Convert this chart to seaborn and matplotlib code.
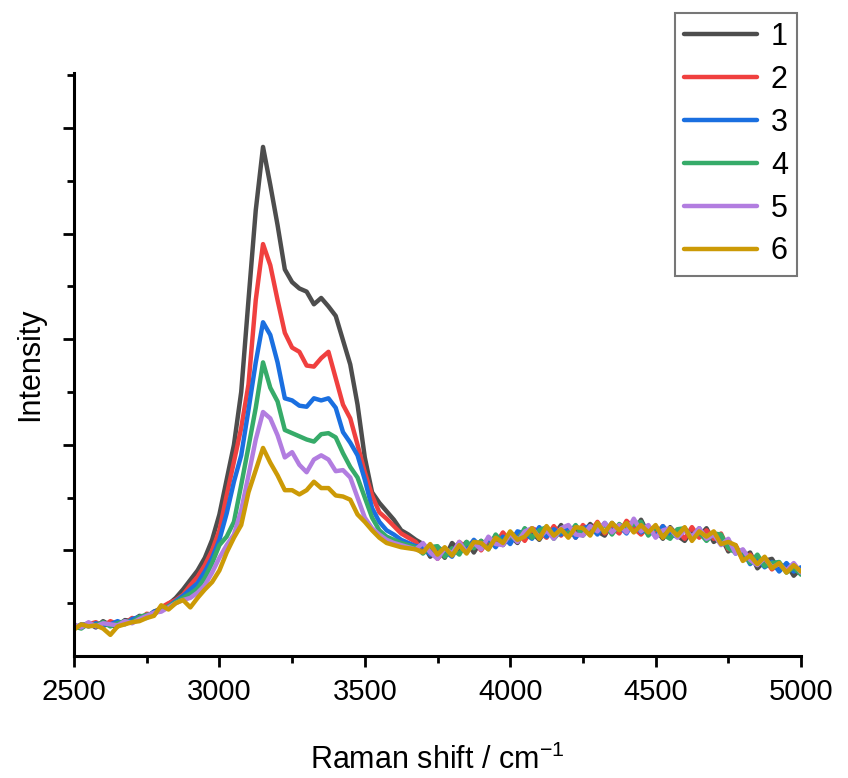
import numpy as np
import pandas as pd
import matplotlib
matplotlib.use("Agg")
import matplotlib.pyplot as plt
import seaborn as sns

# Raman shift axis (cm-1), sampled every 25 cm-1
shift = np.arange(2500, 5001, 25)

# intensities (a.u., one major y tick = 100)
s1 = [27, 29, 31, 27, 33, 29, 28, 34, 33, 38, 37, 42, 45, 49, 55, 63,
      72, 81, 93, 110, 134, 167, 200, 250, 337, 422, 482, 446, 408, 366, 354, 348,
      345, 333, 339, 331, 322, 299, 276, 238, 188, 155, 145, 137, 129, 119, 115, 110,
      106, 94, 101, 93, 107, 100, 108, 98, 109, 103, 114, 105, 114, 107, 120, 117,
      110, 121, 114, 124, 113, 121, 115, 125, 118, 114, 126, 118, 126, 118, 129, 115,
      120, 111, 122, 114, 109, 119, 113, 121, 108, 113, 99, 104, 93, 98, 83, 90,
      92, 81, 87, 76, 83]
s2 = [29, 27, 30, 32, 28, 33, 30, 31, 36, 34, 40, 39, 46, 50, 53, 58,
      67, 75, 86, 100, 119, 152, 184, 216, 257, 337, 390, 370, 337, 306, 292, 288,
      275, 274, 282, 288, 263, 238, 225, 200, 174, 152, 136, 130, 123, 116, 112, 108,
      99, 105, 92, 100, 96, 108, 102, 109, 100, 110, 106, 117, 108, 117, 109, 121,
      118, 112, 123, 114, 122, 112, 124, 117, 127, 116, 122, 116, 128, 121, 115, 123,
      115, 123, 113, 119, 111, 122, 112, 119, 111, 116, 101, 105, 91, 96, 88, 92,
      82, 88, 80, 87, 78]
s3 = [26, 30, 28, 31, 29, 30, 33, 30, 35, 37, 36, 42, 43, 47, 52, 57,
      63, 69, 80, 93, 110, 135, 165, 190, 233, 278, 316, 304, 278, 244, 242, 237,
      236, 244, 242, 244, 235, 212, 202, 190, 167, 140, 127, 119, 115, 110, 107, 104,
      104, 96, 103, 99, 94, 106, 100, 110, 103, 111, 103, 113, 106, 118, 116, 111,
      122, 113, 120, 115, 123, 112, 121, 123, 115, 126, 118, 123, 116, 128, 117, 122,
      113, 123, 115, 113, 121, 112, 121, 110, 117, 108, 110, 97, 100, 87, 93, 84,
      89, 80, 88, 80, 84]
s4 = [28, 26, 31, 29, 32, 28, 31, 33, 32, 37, 39, 40, 44, 47, 51, 55,
      59, 64, 74, 88, 105, 113, 127, 162, 198, 235, 278, 254, 241, 214, 211, 208,
      205, 203, 210, 211, 207, 192, 179, 169, 150, 131, 119, 113, 110, 107, 105, 103,
      97, 103, 104, 94, 102, 96, 108, 102, 109, 101, 115, 107, 114, 109, 121, 112,
      119, 122, 111, 119, 115, 124, 114, 122, 119, 125, 115, 125, 119, 125, 127, 114,
      122, 115, 111, 120, 121, 111, 117, 109, 116, 115, 102, 98, 100, 88, 96, 85,
      88, 89, 79, 84, 77]
s5 = [30, 27, 32, 28, 31, 30, 29, 33, 31, 35, 38, 41, 42, 46, 50, 53,
      55, 60, 67, 79, 93, 105, 115, 138, 171, 205, 231, 225, 209, 188, 193, 181,
      174, 186, 190, 186, 175, 176, 169, 150, 131, 121, 115, 110, 107, 105, 103, 101,
      107, 98, 92, 102, 97, 108, 98, 107, 101, 113, 106, 105, 116, 108, 118, 121,
      112, 119, 111, 121, 124, 115, 114, 123, 118, 126, 117, 124, 117, 130, 118, 124,
      112, 119, 121, 112, 119, 113, 121, 111, 115, 105, 111, 97, 101, 91, 86, 93,
      84, 87, 81, 88, 79]
s6 = [25, 30, 28, 29, 26, 20, 28, 30, 32, 33, 36, 38, 48, 44, 50, 53,
      46, 55, 63, 70, 81, 98, 112, 124, 155, 176, 197, 183, 171, 157, 157, 153,
      157, 165, 159, 159, 152, 151, 148, 134, 127, 119, 112, 107, 105, 103, 102, 101,
      98, 106, 96, 103, 95, 105, 97, 108, 107, 101, 112, 107, 118, 110, 113, 121,
      111, 123, 114, 120, 112, 122, 121, 114, 126, 117, 126, 119, 126, 117, 124, 117,
      124, 112, 121, 114, 122, 109, 118, 113, 118, 106, 108, 105, 90, 95, 87, 94,
      83, 88, 79, 86, 80]

labels = ["1", "2", "3", "4", "5", "6"]
colors = ["#4d4d4d", "#f0403f", "#1a6fe0", "#36ab69", "#b27de0", "#cc9a06"]

frames = []
for lab, vals in zip(labels, [s1, s2, s3, s4, s5, s6]):
    frames.append(pd.DataFrame({"shift": shift, "intensity": vals, "sample": lab}))
df = pd.concat(frames, ignore_index=True)

sns.set_style("ticks")
plt.rcParams["font.family"] = ["Liberation Sans", "DejaVu Sans"]
plt.rcParams["mathtext.default"] = "regular"
plt.rcParams["text.color"] = "black"
plt.rcParams["axes.labelcolor"] = "black"
plt.rcParams["xtick.color"] = "black"
plt.rcParams["ytick.color"] = "black"

fig = plt.figure(figsize=(8.48, 7.78), dpi=100)
ax = fig.add_axes([74 / 848, 122 / 778, 727 / 848, 583 / 778])

sns.lineplot(data=df, x="shift", y="intensity", hue="sample", palette=colors,
             linewidth=3.2, sort=False, ax=ax, legend=False)

ax.set_xlim(2500, 5000)
ax.set_ylim(0, 552)
ax.set_xticks([2500, 3000, 3500, 4000, 4500, 5000])
ax.set_xticks([2750, 3250, 3750, 4250, 4750], minor=True)
ax.set_yticks([100, 200, 300, 400, 500])
ax.set_yticks([50, 150, 250, 350, 450, 550], minor=True)
ax.set_yticklabels([])
ax.tick_params(axis="both", which="major", length=8, width=2, direction="out",
               labelsize=21, pad=8)
ax.tick_params(axis="both", which="minor", length=5, width=2, direction="out")
for side in ["top", "right"]:
    ax.spines[side].set_visible(False)
for side in ["left", "bottom"]:
    ax.spines[side].set_linewidth(2.2)
    ax.spines[side].set_color("black")

ax.set_xlabel("Raman shift / cm$^{-1}$", fontsize=22, labelpad=28)
ax.set_ylabel("Intensity", fontsize=22)
ax.yaxis.set_label_coords(-0.04, 0.5)

handles = [plt.Line2D([], [], color=c, linewidth=3.2) for c in colors]
leg = fig.legend(handles, labels, loc="upper right",
                 bbox_to_anchor=(797 / 848, 1 - 13 / 778),
                 bbox_transform=fig.transFigure, fontsize=22, frameon=True,
                 fancybox=False, handlelength=2.4, handletextpad=0.45,
                 labelspacing=0.42, borderpad=0.3, borderaxespad=0)
leg.get_frame().set_edgecolor("#555555")
leg.get_frame().set_linewidth(1.5)

fig.savefig("out.png", dpi=100)
